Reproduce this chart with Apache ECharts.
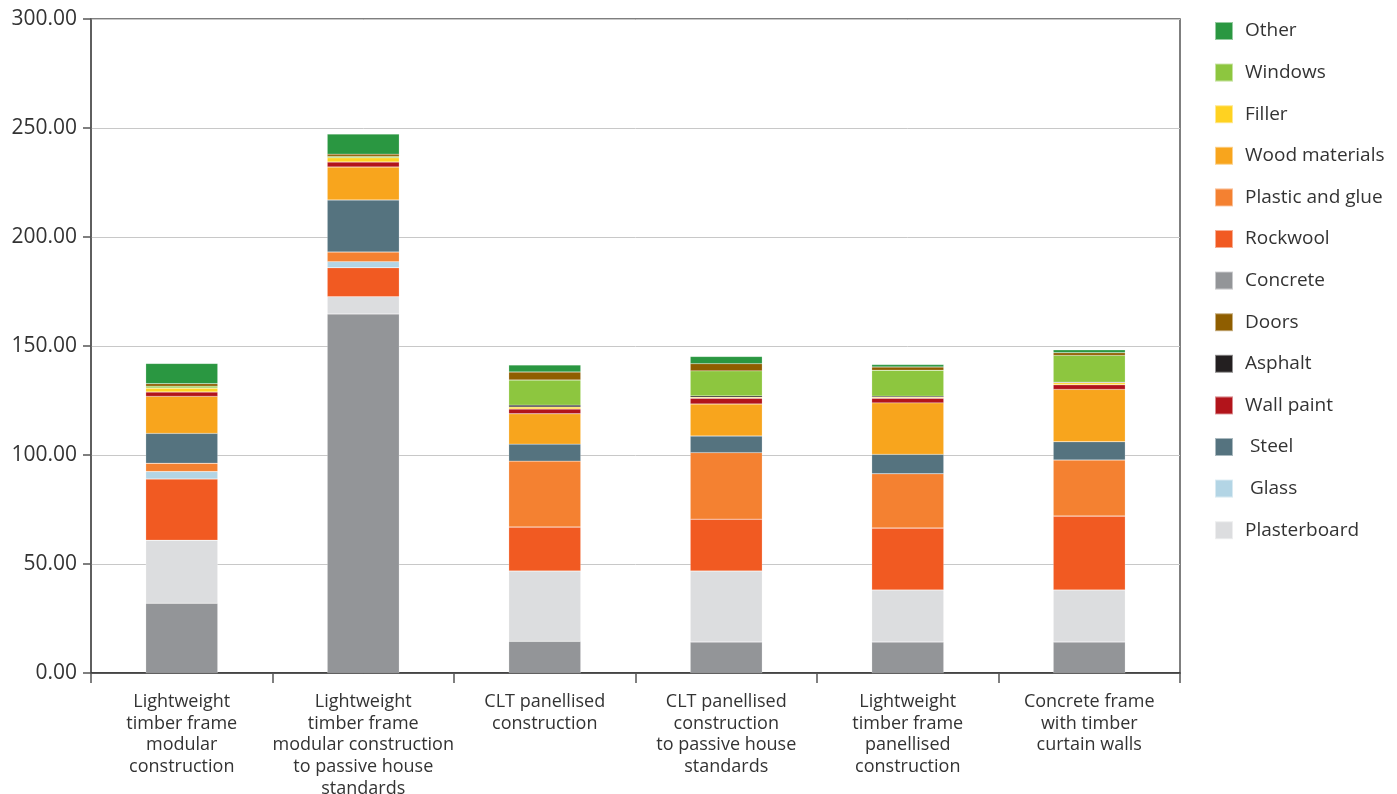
<!DOCTYPE html>
<html>
<head>
<meta charset="utf-8">
<script src="https://cdn.jsdelivr.net/npm/echarts@6/dist/echarts.min.js"></script>
<style>
html,body{margin:0;padding:0;background:#fff;}
#chart{width:1397px;height:794px;}
</style>
</head>
<body>
<div id="chart"></div>
<script>
const categories = [
  "Lightweight\ntimber frame\nmodular\nconstruction",
  "Lightweight\ntimber frame\nmodular construction\nto passive house\nstandards",
  "CLT panellised\nconstruction",
  "CLT panellised\nconstruction\nto passive house\nstandards",
  "Lightweight\ntimber frame\npanellised\nconstruction",
  "Concrete frame\nwith timber\ncurtain walls"
];
const concrete     = [32.0, 164.7, 14.5, 14.2, 14.2, 14.2];
const plasterboard = [28.9, 7.9, 32.3, 32.6, 23.9, 23.9];
const rockwool     = [28.1, 13.3, 20.2, 23.8, 28.4, 33.9];
const glass        = [3.4, 2.8, 0, 0, 0, 0];
const plasticGlue  = [3.8, 4.4, 30.2, 30.5, 24.9, 25.7];
const steel        = [13.7, 23.9, 7.8, 7.6, 8.9, 8.4];
const wood         = [17.0, 15.1, 13.9, 14.7, 23.6, 24.0];
const wallPaint    = [2.0, 2.3, 2.2, 2.6, 2.1, 2.1];
const filler       = [1.8, 2.0, 0.9, 0.5, 0.5, 0.9];
const asphalt      = [0, 0, 0.9, 0.6, 0.5, 0.3];
const windows      = [0.9, 0.6, 11.5, 11.5, 11.9, 12.3];
const doors        = [1.1, 1.0, 3.7, 3.3, 1.5, 1.2];
const other        = [9.3, 9.2, 3.2, 3.3, 1.1, 1.3];
const yTicks = [0, 50, 100, 150, 200, 250, 300];

const seriesDefs = [
  ["Concrete", concrete, "#939598"],
  ["Plasterboard", plasterboard, "#dcdddf"],
  ["Rockwool", rockwool, "#f15a22"],
  [" Glass", glass, "#b3d5e5"],
  ["Plastic and glue", plasticGlue, "#f48131"],
  [" Steel", steel, "#55737f"],
  ["Wood materials", wood, "#f8a51d"],
  ["Wall paint", wallPaint, "#b2141b"],
  ["Filler", filler, "#ffd221"],
  ["Asphalt", asphalt, "#231f20"],
  ["Windows", windows, "#8dc63f"],
  ["Doors", doors, "#8f5e00"],
  ["Other", other, "#2a9741"]
];
const legendOrder = ["Other","Windows","Filler","Wood materials","Plastic and glue","Rockwool","Concrete","Doors","Asphalt","Wall paint"," Steel"," Glass","Plasterboard"];

const FONT = "'Open Sans', 'Noto Sans', sans-serif";
const chart = echarts.init(document.getElementById('chart'), null, {renderer:'canvas'});
chart.setOption({
  animation: false,
  textStyle: {fontFamily: FONT},
  grid: {left: 91, right: 217, top: 19, bottom: 121, containLabel: false, outerBoundsMode: 'none', show: true, borderColor: '#555', borderWidth: 1.5, backgroundColor: 'transparent'},
  legend: {
    data: legendOrder,
    orient: 'vertical',
    left: 1209, top: 16,
    itemWidth: 18, itemHeight: 18, itemGap: 21.6,
    icon: 'rect',
    textStyle: {fontSize: 19, lineHeight: 18, color: '#333', fontFamily: FONT, padding: [0,0,0,7]}
  },
  xAxis: {
    type: 'category',
    data: categories,
    axisLine: {lineStyle: {color: '#333', width: 1.5}},
    axisTick: {show: true, length: 10, lineStyle: {color: '#555', width: 1.5}},
    axisLabel: {fontSize: 18, lineHeight: 21.7, color: '#333', margin: 18, interval: 0, fontFamily: FONT}
  },
  yAxis: {
    type: 'value',
    min: yTicks[0], max: yTicks[yTicks.length-1], interval: 50,
    axisLine: {show: true, lineStyle: {color: '#555', width: 1.5}},
    axisTick: {show: true, length: 8, lineStyle: {color: '#555', width: 1.5}},
    axisLabel: {fontSize: 21, color: '#333', margin: 14, formatter: v => v.toFixed(2), fontFamily: FONT},
    splitLine: {lineStyle: {color: '#c8c8c8', width: 1}}
  },
  series: seriesDefs.map(([name, data, color]) => ({
    name, type: 'bar', stack: 'total', data, barWidth: 72,
    itemStyle: {color, borderColor: 'rgba(255,255,255,0.5)', borderWidth: 0.4}
  }))
});
</script>
</body>
</html>
